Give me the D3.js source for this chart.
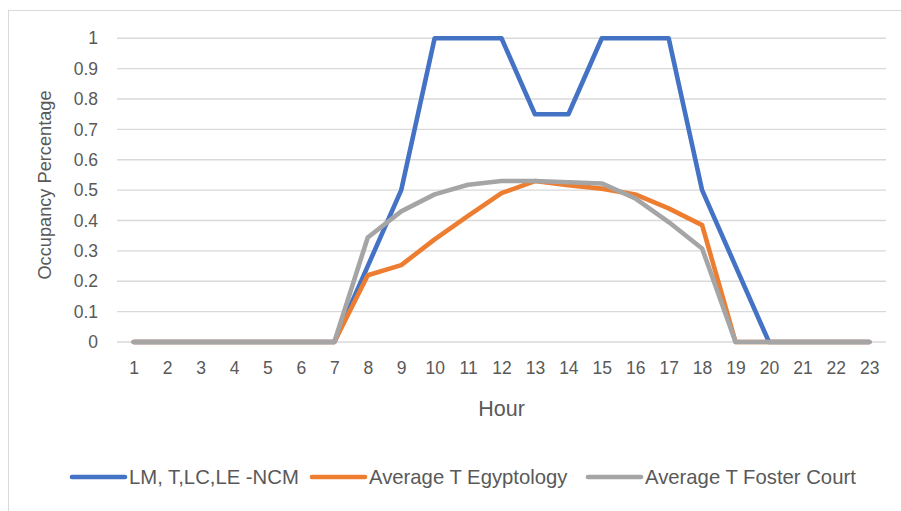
<!DOCTYPE html>
<html>
<head>
<meta charset="utf-8">
<script src="https://cdn.jsdelivr.net/npm/d3@7"></script>
<style>
  html, body { margin: 0; padding: 0; background: #fff; }
  svg { display: block; }
  text { font-family: "Liberation Sans", Arial, sans-serif; fill: #595959; }
</style>
</head>
<body>
<svg id="chart" width="901" height="511"></svg>
<script>
// Hourly occupancy profiles
const hours = [1,2,3,4,5,6,7,8,9,10,11,12,13,14,15,16,17,18,19,20,21,22,23];
const ncm = [0,0,0,0,0,0,0,0.25,0.5,1,1,1,0.75,0.75,1,1,1,0.5,0.25,0,0,0,0];
const egyptology = [0,0,0,0,0,0,0,0.22,0.253,0.338,0.415,0.49,0.53,0.516,0.505,0.486,0.44,0.385,0,0,0,0,0];
const fosterCourt = [0,0,0,0,0,0,0,0.344,0.43,0.486,0.518,0.53,0.53,0.526,0.522,0.473,0.395,0.308,0,0,0,0,0];
const yTicks = [0,0.1,0.2,0.3,0.4,0.5,0.6,0.7,0.8,0.9,1];

const seriesList = [
  { name: "LM, T,LC,LE -NCM", values: ncm, color: "#4472C4" },
  { name: "Average T Egyptology", values: egyptology, color: "#ED7D31" },
  { name: "Average T Foster Court", values: fosterCourt, color: "#A5A5A5" }
];

const svg = d3.select("#chart");

// Outer chart frame
svg.append("rect")
  .attr("x", 8.5).attr("y", 10.5)
  .attr("width", 1000).attr("height", 1000)
  .attr("fill", "none").attr("stroke", "#D9D9D9").attr("stroke-width", 1);

const plot = { left: 117, right: 886, top: 38.3, bottom: 342 };

const x = d3.scalePoint().domain(hours).range([plot.left, plot.right]).padding(0.5);
const y = d3.scaleLinear().domain([0, 1]).range([plot.bottom, plot.top]);

// Horizontal gridlines
svg.append("g")
  .selectAll("line")
  .data(yTicks)
  .join("line")
  .attr("x1", plot.left).attr("x2", plot.right)
  .attr("y1", d => y(d)).attr("y2", d => y(d))
  .attr("stroke", "#D9D9D9").attr("stroke-width", 1.4);

// Y axis labels
const yAxis = d3.axisLeft(y).tickValues(yTicks).tickSize(0).tickPadding(0)
  .tickFormat(d => d3.format("")(+d.toFixed(1)));
svg.append("g")
  .attr("transform", `translate(${plot.left - 19},0)`)
  .call(yAxis)
  .call(g => g.select(".domain").remove())
  .call(g => g.selectAll("text")
    .attr("font-size", 17.5).attr("fill", "#595959")
    .attr("font-family", "Liberation Sans, Arial, sans-serif"));

// X axis labels
const xAxis = d3.axisBottom(x).tickSize(0).tickPadding(0);
svg.append("g")
  .attr("transform", `translate(0,${plot.bottom + 20})`)
  .call(xAxis)
  .call(g => g.select(".domain").remove())
  .call(g => g.selectAll("text")
    .attr("font-size", 17.5).attr("fill", "#595959")
    .attr("font-family", "Liberation Sans, Arial, sans-serif"));

// Axis titles
svg.append("text")
  .attr("x", (plot.left + plot.right) / 2).attr("y", 416)
  .attr("text-anchor", "middle").attr("font-size", 21.5)
  .text("Hour");

svg.append("text")
  .attr("transform", "translate(51,185) rotate(-90)")
  .attr("text-anchor", "middle").attr("font-size", 18.2)
  .text("Occupancy Percentage");

// Series lines
const line = d3.line()
  .x((d, i) => x(hours[i]))
  .y(d => y(d));

svg.append("g")
  .selectAll("path")
  .data(seriesList)
  .join("path")
  .attr("d", s => line(s.values))
  .attr("fill", "none")
  .attr("stroke", s => s.color)
  .attr("stroke-width", 4.6)
  .attr("stroke-linejoin", "round")
  .attr("stroke-linecap", "round");

// Legend
const legendX = [72, 312, 588];
const legend = svg.append("g");
seriesList.forEach((s, i) => {
  const g = legend.append("g").attr("transform", `translate(${legendX[i]},477)`);
  g.append("line")
    .attr("x1", 0).attr("x2", 53).attr("y1", 0).attr("y2", 0)
    .attr("stroke", s.color).attr("stroke-width", 4.6)
    .attr("stroke-linecap", "round");
  g.append("text")
    .attr("x", 57).attr("y", 0).attr("dy", "0.35em")
    .attr("font-size", 20.3)
    .text(s.name);
});
</script>
</body>
</html>
